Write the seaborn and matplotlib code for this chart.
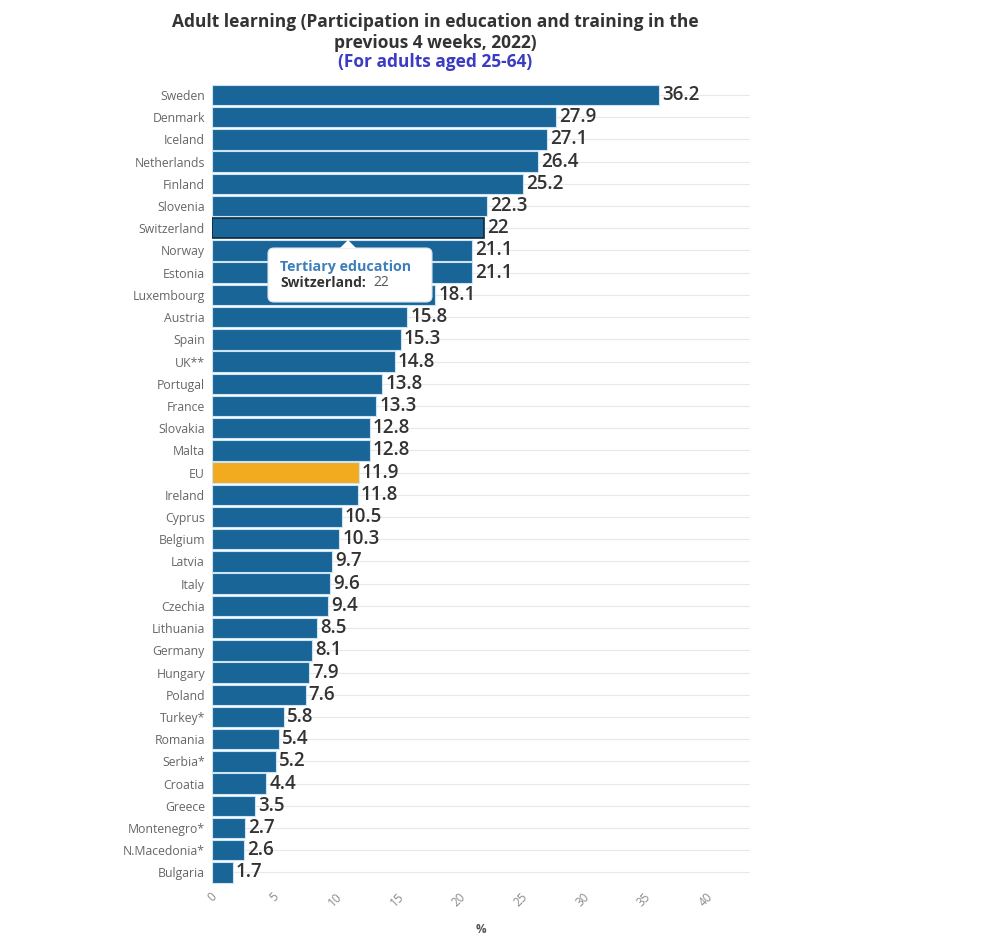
import matplotlib
matplotlib.use("Agg")
import matplotlib.pyplot as plt
import seaborn as sns
import pandas as pd
from matplotlib.patches import FancyBboxPatch, Polygon

# Data
countries = ["Sweden", "Denmark", "Iceland", "Netherlands", "Finland", "Slovenia",
             "Switzerland", "Norway", "Estonia", "Luxembourg", "Austria", "Spain",
             "UK**", "Portugal", "France", "Slovakia", "Malta", "EU", "Ireland",
             "Cyprus", "Belgium", "Latvia", "Italy", "Czechia", "Lithuania",
             "Germany", "Hungary", "Poland", "Turkey*", "Romania", "Serbia*",
             "Croatia", "Greece", "Montenegro*", "N.Macedonia*", "Bulgaria"]
values = [36.2, 27.9, 27.1, 26.4, 25.2, 22.3, 22, 21.1, 21.1, 18.1, 15.8, 15.3,
          14.8, 13.8, 13.3, 12.8, 12.8, 11.9, 11.8, 10.5, 10.3, 9.7, 9.6, 9.4,
          8.5, 8.1, 7.9, 7.6, 5.8, 5.4, 5.2, 4.4, 3.5, 2.7, 2.6, 1.7]
x_ticks = [0, 5, 10, 15, 20, 25, 30, 35, 40]

df = pd.DataFrame({"country": countries, "value": values})

sns.set_theme(style="white")
plt.rcParams["font.family"] = ["Open Sans", "DejaVu Sans"]

blue = "#1a6597"
gold = "#f2aa1f"
palette = [gold if c == "EU" else blue for c in countries]

fig = plt.figure(figsize=(9.9, 9.42), dpi=100)
ax = fig.add_axes([0.214, 0.062, 0.544, 0.849])

# light horizontal guide lines behind the bars
for i in range(len(countries)):
    ax.axhline(i, color="#e8e8e8", linewidth=0.8, zorder=0)

sns.barplot(data=df, x="value", y="country", hue="country", palette=palette,
            legend=False, width=0.92, saturation=1, edgecolor="#cde4f4",
            linewidth=0.8, ax=ax, zorder=2)

# hovered bar outline (Switzerland)
sw = countries.index("Switzerland")
ax.patches[sw].set_edgecolor("#0d2a40")
ax.patches[sw].set_linewidth(1.2)

for i, v in enumerate(values):
    ax.text(v + 0.25, i, f"{v:g}", va="center", ha="left", fontsize=13.5,
            fontweight="semibold", color="#333333", zorder=3)

ax.set_xlim(0, 43.6)
ax.set_ylim(len(countries) - 0.5, -0.5)
ax.set_xticks(x_ticks)
ax.set_xticklabels([str(t) for t in x_ticks], rotation=45, fontsize=8.5,
                   color="#8a8a8a")
ax.tick_params(axis="y", labelsize=8.8, labelcolor="#666666", length=0, pad=5)
ax.tick_params(axis="x", length=0, pad=5)
ax.set_xlabel("%", fontsize=8.5, fontweight="bold", color="#555555", labelpad=10)
ax.set_ylabel("")
for s in ax.spines.values():
    s.set_visible(False)
ax.axhline(len(countries) - 0.5, color="#e8e8e8", linewidth=0.8)

# titles
fig.text(0.44, 1 - 22 / 942, "Adult learning (Participation in education and training in the",
         ha="center", va="center", fontsize=12.5, fontweight="bold", color="#333333")
fig.text(0.44, 1 - 43 / 942, "previous 4 weeks, 2022)", ha="center", va="center",
         fontsize=12.5, fontweight="bold", color="#333333")
fig.text(0.44, 1 - 62 / 942, "(For adults aged 25-64)", ha="center", va="center",
         fontsize=12.5, fontweight="bold", color="#3b3bc4")

# tooltip box
x0, y0, w, h = 268 / 990, 1 - 302 / 942, 164 / 990, 54 / 942
box = FancyBboxPatch((x0, y0), w, h, boxstyle="round,pad=0,rounding_size=0.006",
                     transform=fig.transFigure, facecolor="white",
                     edgecolor="#d8e4ee", linewidth=0.8, zorder=5)
fig.patches.append(box)
tip = Polygon([(340 / 990, 1 - 248 / 942), (348 / 990, 1 - 240 / 942),
               (356 / 990, 1 - 248 / 942)], closed=True,
              transform=fig.transFigure, facecolor="white",
              edgecolor="none", zorder=6)
fig.patches.append(tip)
fig.text(280 / 990, 1 - 267 / 942, "Tertiary education", fontsize=10.3,
         fontweight="bold", color="#3d7fb8", va="center", zorder=7)
fig.text(280 / 990, 1 - 283 / 942, "Switzerland:", fontsize=10,
         fontweight="bold", color="#333333", va="center", zorder=7)
fig.text(373 / 990, 1 - 283 / 942, "22", fontsize=10, color="#555555",
         va="center", zorder=7)

plt.savefig("out.png", dpi=100)
